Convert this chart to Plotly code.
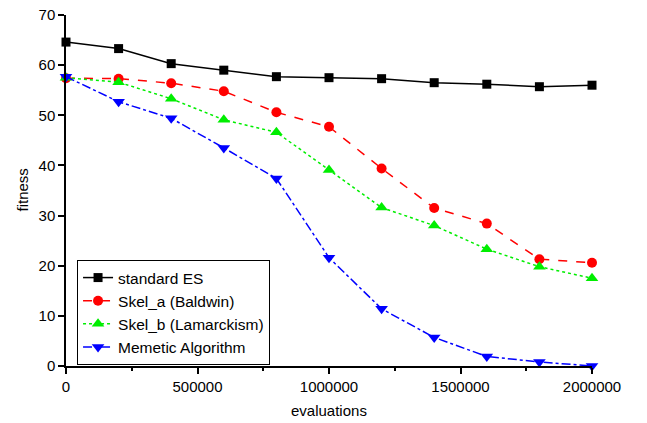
import plotly.graph_objects as go

evaluations = [0, 200000, 400000, 600000, 800000, 1000000, 1200000, 1400000, 1600000, 1800000, 2000000]
standard_es = [64.6, 63.3, 60.3, 59.0, 57.7, 57.5, 57.3, 56.5, 56.2, 55.7, 56.0]
skel_a = [57.4, 57.3, 56.4, 54.8, 50.6, 47.7, 39.4, 31.5, 28.4, 21.3, 20.6]
skel_b = [57.5, 56.6, 53.3, 49.1, 46.6, 39.1, 31.6, 28.0, 23.3, 19.8, 17.5]
memetic = [57.7, 52.7, 49.4, 43.5, 37.4, 21.6, 11.4, 5.7, 1.9, 0.8, 0.0]

names = ["standard ES", "Skel_a (Baldwin)", "Skel_b (Lamarckism)", "Memetic Algorithm"]
series = [standard_es, skel_a, skel_b, memetic]
colors = ["#000000", "#ff0000", "#00ee00", "#0000ff"]
dashes = ["solid", "dash", "dot", "dashdot"]
symbols = ["square", "circle", "triangle-up", "triangle-down"]
sizes = [9, 10, 11, 11]

fig = go.Figure()
for n, s, c, d, m, z in zip(names, series, colors, dashes, symbols, sizes):
    fig.add_trace(go.Scatter(
        x=evaluations, y=s, name=n, mode="lines+markers",
        line=dict(color=c, dash=d, width=1.5),
        marker=dict(symbol=m, size=z, color=c),
        cliponaxis=False,
    ))

fam = "Liberation Sans, Arial, sans-serif"
font = dict(family=fam, size=15, color="black")
fig.update_layout(
    width=647, height=423,
    margin=dict(l=66, r=55, t=15, b=57),
    paper_bgcolor="white", plot_bgcolor="white",
    font=font,
    showlegend=True,
    legend=dict(x=0.021, y=0.302, xanchor="left", yanchor="top",
                bordercolor="black", borderwidth=1, bgcolor="white",
                font=dict(family=fam, size=15.5, color="black"),
                tracegroupgap=0, itemwidth=30),
    annotations=[
        dict(text="evaluations", x=0.5, y=0, xref="paper", yref="paper",
             xanchor="center", yanchor="middle", yshift=-44, showarrow=False, font=font),
        dict(text="fitness", x=0, y=0.5, xref="paper", yref="paper", textangle=-90,
             xanchor="center", yanchor="middle", xshift=-44, showarrow=False, font=font),
    ],
)
fig.update_xaxes(
    range=[0, 2000000], tickvals=[0, 500000, 1000000, 1500000, 2000000],
    ticktext=["0", "500000", "1000000", "1500000", "2000000"],
    showgrid=False, zeroline=False, showline=True, linecolor="black", linewidth=1.5,
    ticks="outside", ticklen=6, tickwidth=1.5, tickcolor="black",
    minor=dict(tickvals=[250000, 750000, 1250000, 1750000], ticks="outside", ticklen=3, tickwidth=1.5, tickcolor="black"),
    tickfont=font, automargin=False,
)
fig.update_yaxes(
    range=[0, 70], tickvals=[0, 10, 20, 30, 40, 50, 60, 70],
    showgrid=False, zeroline=False, showline=True, linecolor="black", linewidth=1.5,
    ticks="outside", ticklen=6, tickwidth=1.5, tickcolor="black",
    tickfont=font, automargin=False,
)
fig.write_html("out.html", config={"displayModeBar": False},
               post_script="document.body.style.margin='0px';")
